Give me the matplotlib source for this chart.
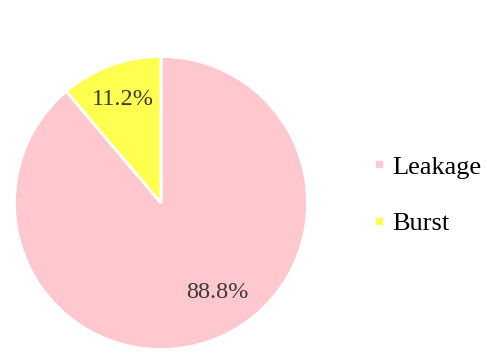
import matplotlib
matplotlib.use("Agg")
import matplotlib.pyplot as plt
from matplotlib.lines import Line2D
import numpy as np

# Datos
categorias = ["Leakage", "Burst"]
porcentajes = [88.8, 11.2]
colores = ["#FFC7CE", "#FFFF4F"]

plt.rcParams["font.family"] = ["Liberation Serif", "DejaVu Serif"]

fig = plt.figure(figsize=(4.87, 3.56), dpi=100)
ax = fig.add_axes([13 / 487, 5 / 356, 296 / 487, 296 / 356])

wedges, textos, autotextos = ax.pie(
    porcentajes, colors=colores, startangle=90, counterclock=False,
    autopct="%.1f%%", pctdistance=0.75,
    wedgeprops=dict(edgecolor="white", linewidth=2),
    textprops=dict(fontsize=17.5, color="#3a3a3a"),
)
# la etiqueta grande va algo desplazada hacia la derecha
ang = np.deg2rad(-58)
autotextos[0].set_position((0.72 * np.cos(ang), 0.72 * np.sin(ang)))

ax.set_xlim(-1.01, 1.01)
ax.set_ylim(-1.01, 1.01)
ax.set_aspect("equal")

handles = [Line2D([], [], marker="s", linestyle="", markersize=5,
                  markerfacecolor=c, markeredgecolor=c) for c in colores]
fig.legend(handles, categorias, loc="center left",
           bbox_to_anchor=(347 / 487, 1 - 195 / 356), frameon=False,
           fontsize=19, handlelength=0.6, handletextpad=0.2,
           labelspacing=1.25)

fig.savefig("out.png", dpi=100)
